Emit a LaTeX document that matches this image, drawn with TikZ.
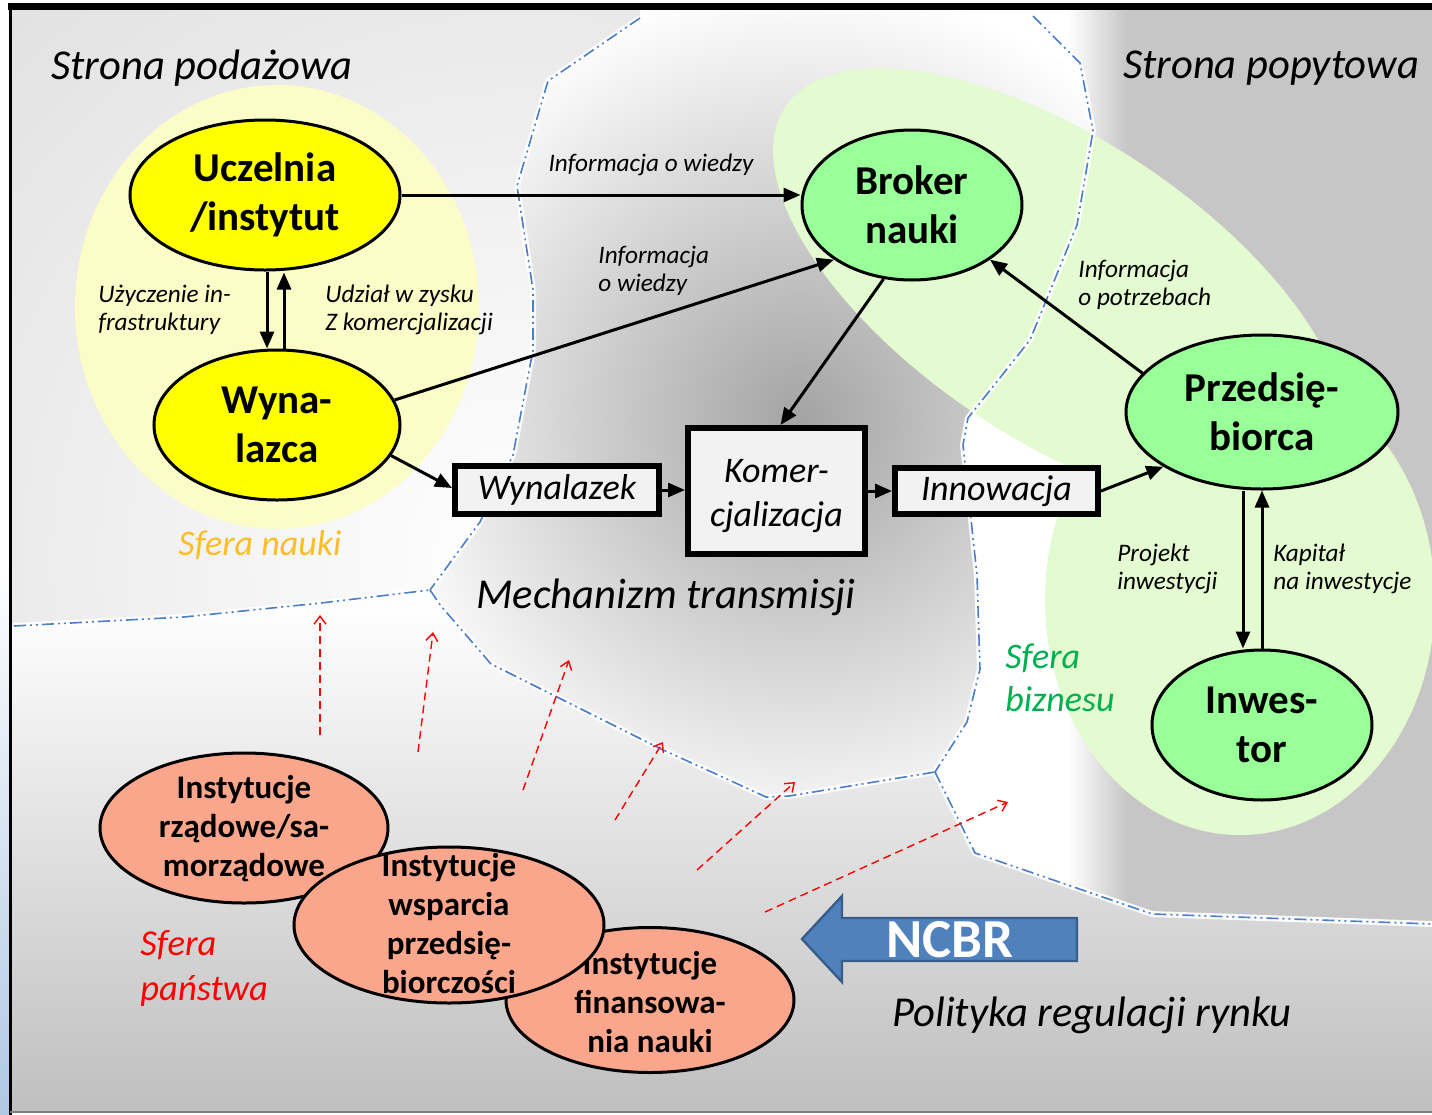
\documentclass[tikz,border=0pt]{standalone}
\usepackage{fontspec}
\setmainfont{Carlito}
\usetikzlibrary{shapes.geometric,arrows.meta,calc}
\definecolor{ylw}{RGB}{255,255,0}
\definecolor{ylwlight}{RGB}{252,252,200}
\definecolor{grnnode}{RGB}{153,255,153}
\definecolor{grnlight}{RGB}{228,250,208}
\definecolor{salmon}{RGB}{249,166,140}
\definecolor{boxfill}{RGB}{242,242,242}
\definecolor{bndblue}{RGB}{74,126,200}
\definecolor{ncbrfill}{RGB}{79,129,189}
\definecolor{ncbrdraw}{RGB}{56,93,138}
\definecolor{nauki}{RGB}{250,190,40}
\definecolor{biznes}{RGB}{0,176,80}
\definecolor{panstwo}{RGB}{255,0,0}
\definecolor{leftglow}{RGB}{175,200,228}
\begin{document}
\begin{tikzpicture}[x=0.5pt,y=-0.5pt,
  ellbase/.style={ellipse,draw=black,line width=1.5pt,inner sep=0pt,align=center},
  yellnode/.style={ellbase,fill=ylw,font=\bfseries\fontsize{20.5}{24.5}\selectfont},
  grnnd/.style={ellbase,fill=grnnode,font=\bfseries\fontsize{20.5}{24.5}\selectfont},
  salnode/.style={ellbase,fill=salmon},
  saltext/.style={align=center,inner sep=0pt,font=\bfseries\fontsize{16.5}{19.5}\selectfont},
  boxnode/.style={rectangle,draw=black,line width=3pt,fill=boxfill,inner sep=0pt,align=center,font=\itshape\fontsize{18}{22}\selectfont},
  arr/.style={-{Triangle[length=8.5pt,width=7pt]},line width=1.5pt},
  lbl/.style={align=left,inner sep=0pt,font=\itshape\fontsize{12.6}{14}\selectfont},
  bigtxt/.style={inner sep=0pt,font=\itshape\fontsize{21.3}{25}\selectfont},
  redarr/.style={draw=panstwo,line width=0.7pt,dash pattern=on 4pt off 2.5pt,-{Straight Barb[length=4pt,width=6pt]}},
  halo/.style={draw=white,line width=3pt,line join=round,opacity=0.9},
  bnd/.style={draw=bndblue,line width=0.8pt,line join=round,dash pattern=on 6pt off 2pt on 1pt off 2pt on 1pt off 2pt}
]
\useasboundingbox (0,0) rectangle (1432,1115);
\fill[white] (0,0) rectangle (1432,1115);
\shade[top color=white,bottom color=leftglow] (0,560) rectangle (9,1115);

% ---------- background regions ----------
\begin{scope}
\clip (12,10) -- (640,10) -- (640,18) -- (548,81) -- (517,186) -- (533,290) -- (533,350) -- (513,455) -- (480,522) -- (430,590) -- (321,603) -- (184,617) -- (12,626) -- cycle;
\shade[inner color=white,outer color=gray!40] (520,560) circle (1300);
\end{scope}
\begin{scope}
\clip (640,10) -- (1033,10) -- (1033,16) -- (1080,63) -- (1093,131) -- (1077,225) -- (1030,340) -- (968,418) -- (963,445) -- (977,575) -- (980,669) -- (967,722) -- (935,772) -- (789,796) -- (766,797) -- (716,774) -- (661,749) -- (551,694) -- (491,664) -- (441,606) -- (430,590) -- (480,522) -- (513,455) -- (533,350) -- (533,290) -- (517,186) -- (548,81) -- (640,18) -- cycle;
\fill[white] (600,0) rectangle (1100,850);
\shade[inner color=gray!72,outer color=white] (800,420) circle (440);
\end{scope}
\begin{scope}
\clip (1033,10) -- (1432,10) -- (1432,924) -- (1152,914) -- (975,853) -- (935,772) -- (967,722) -- (980,669) -- (977,575) -- (963,445) -- (968,418) -- (1030,340) -- (1077,225) -- (1093,131) -- (1080,63) -- (1033,16) -- cycle;
\fill[white] (900,0) rectangle (1070,1000);
\shade[left color=white,right color=gray!45] (1068,0) rectangle (1128,1000);
\fill[gray!45] (1127,0) rectangle (1432,1000);
\end{scope}
\begin{scope}
\clip (12,626) -- (184,617) -- (321,603) -- (430,590) -- (441,606) -- (491,664) -- (551,694) -- (661,749) -- (716,774) -- (766,797) -- (789,796) -- (935,772) -- (975,853) -- (1152,914) -- (1432,924) -- (1432,1111) -- (12,1111) -- cycle;
\shade[top color=white,bottom color=gray!50] (12,600) rectangle (1432,1111);
\end{scope}

% ---------- spheres ----------
\fill[ylwlight] (277,307) ellipse (202 and 222);
\begin{scope}
\clip (12,10) rectangle (1432,1111);
\fill[grnlight,rotate around={-33.7:(1060,290)}] (1060,290) ellipse (330 and 150);
\fill[grnlight] (1240,600) ellipse (195 and 235);
\end{scope}

% ---------- boundary lines ----------
\foreach \st in {halo,bnd}{
  \draw[\st] (640,18) -- (548,81) -- (517,186) -- (533,290) -- (533,350) -- (513,455) -- (480,522) -- (430,590);
  \draw[\st] (14,626) -- (184,617) -- (321,603) -- (430,590);
  \draw[\st] (430,590) -- (441,606) -- (491,664) -- (551,694) -- (661,749) -- (716,774) -- (766,797) -- (789,796) -- (935,772);
  \draw[\st] (935,772) -- (975,853) -- (1152,914) -- (1432,924);
  \draw[\st] (1033,16) -- (1080,63) -- (1093,131) -- (1077,225) -- (1030,340) -- (968,418) -- (963,445) -- (977,575) -- (980,669) -- (967,722) -- (935,772);
}

% ---------- frame ----------
\draw[black,line width=3.5pt] (8,6) -- (1432,6);
\draw[black,line width=1.5pt] (10,4) -- (10,1115);
\draw[gray,line width=1pt] (10,1112) -- (1432,1112);

% ---------- red dashed arrows ----------
\coordinate (r1a) at (320,735); \coordinate (r1b) at (320,615);
\coordinate (r2a) at (418,752); \coordinate (r2b) at (433,632);
\coordinate (r3a) at (523,790); \coordinate (r3b) at (569,660);
\coordinate (r4a) at (615,820); \coordinate (r4b) at (663,742);
\coordinate (r5a) at (697,870); \coordinate (r5b) at (795,782);
\coordinate (r6a) at (765,912); \coordinate (r6b) at (1008,802);
\foreach \i in {1,...,6}{\draw[redarr] (r\i a) -- (r\i b);}

% ---------- texts ----------
\node[bigtxt] (t1) at (202,68) {Strona podażowa};
\node[bigtxt] (t2) at (1271,68) {Strona popytowa};
\node[bigtxt,text=nauki,font=\itshape\fontsize{18}{22}\selectfont] (sn) at (260,545) {Sfera nauki};
\node[bigtxt] (mt) at (666,597) {Mechanizm transmisji};
\node[bigtxt] (pr) at (1092,1015) {Polityka regulacji rynku};
\node[lbl,text=biznes,font=\itshape\fontsize{18}{21.5}\selectfont,anchor=west] (sb) at (1005,678) {Sfera\\biznesu};
\node[lbl,text=panstwo,font=\itshape\fontsize{18.3}{22.5}\selectfont,anchor=west] (sp) at (140,968) {Sfera\\państwa};

\node[lbl,anchor=center] (l1) at (651,165) {Informacja o wiedzy};
\node[lbl,anchor=west] (l2) at (598,271) {Informacja\\o wiedzy};
\node[lbl,anchor=west] (l3) at (98,310) {Użyczenie in-\\frastruktury};
\node[lbl,anchor=west] (l4) at (325,310) {Udział w zysku\\Z komercjalizacji};
\node[lbl,anchor=west] (l5) at (1078,285) {Informacja\\o potrzebach};
\node[lbl,anchor=west] (l6) at (1117,569) {Projekt\\inwestycji};
\node[lbl,anchor=west] (l7) at (1273,569) {Kapitał\\na inwestycje};

% ---------- main nodes ----------
\node[yellnode,minimum width=135pt,minimum height=75pt] (uc) at (265,195) {Uczelnia\\/instytut};
\node[yellnode,minimum width=123pt,minimum height=75pt] (wy) at (277,425) {Wyna-\\lazca};
\node[grnnd,minimum width=110pt,minimum height=75pt] (br) at (912,205) {Broker\\nauki};
\node[grnnd,minimum width=136pt,minimum height=77pt] (prz) at (1262,412) {Przedsię-\\biorca};
\node[grnnd,minimum width=110pt,minimum height=75pt] (inw) at (1262,725) {Inwes-\\tor};

\node[boxnode,minimum width=102pt,minimum height=24pt] (wz) at (557,490) {Wynalazek};
\node[boxnode,minimum width=88.5pt,minimum height=63pt] (ko) at (776.5,491) {};
\node[inner sep=0pt,align=center,font=\itshape\fontsize{18}{22}\selectfont] (kot) at (776.5,496) {Komer-\\cjalizacja};
\node[boxnode,minimum width=101.5pt,minimum height=23pt] (in) at (996.5,491) {Innowacja};

% ---------- connectors ----------
\draw[arr] (uc.east) -- (uc.east -| br.west);
\draw[arr] (wy.12) -- (br.215);
\draw[arr] ([xshift=1pt]uc.south) -- ([xshift=1pt]uc.south |- wy.north);
\draw[arr] ([xshift=3.5pt]wy.north) -- ([xshift=3.5pt,yshift=-0.5pt]wy.north |- uc.south);
\draw[arr] (wy.-15) -- ([yshift=1pt]wz.west);
\draw[arr] (wz.east) -- (wz.east -| ko.west);
\draw[arr] (ko.east |- in.west) -- (in.west);
\draw[arr] (in.east) -- (prz.209);
\draw[arr] (br.249) -- ([xshift=2pt]ko.north);
\draw[arr] (prz.162) -- (br.-35);
\draw[arr] ([xshift=-9.5pt]prz.south) -- ([xshift=-9.5pt]prz.south |- inw.north);
\draw[arr] (inw.north) -- (inw.north |- prz.south);

% ---------- state institutions ----------
\node[salnode,minimum width=144pt,minimum height=75pt] (s1) at (244,828) {};
\node[salnode,minimum width=144pt,minimum height=72.5pt] (s3) at (650,1000) {};
\node[saltext] (s3t) at (650,1002) {Instytucje\\finansowa-\\nia nauki};
\node[salnode,minimum width=155pt,minimum height=78pt] (s2) at (449,925) {};
\node[saltext] (s1t) at (244,829) {Instytucje\\rządowe/sa-\\morządowe};
\node[saltext] (s2t) at (449,924) {Instytucje\\wsparcia\\przedsię-\\biorczości};

% ---------- NCBR arrow ----------
\filldraw[fill=ncbrfill,draw=ncbrdraw,line width=1.2pt,line join=miter] (802,939) -- (842,896) -- (842,918) -- (1077,918) -- (1077,961) -- (842,961) -- (842,982) -- cycle;
\node[inner sep=0pt,text=white,font=\bfseries\fontsize{27.5}{30}\selectfont] (ncbr) at (950,940) {NCBR};
\end{tikzpicture}
\end{document}
